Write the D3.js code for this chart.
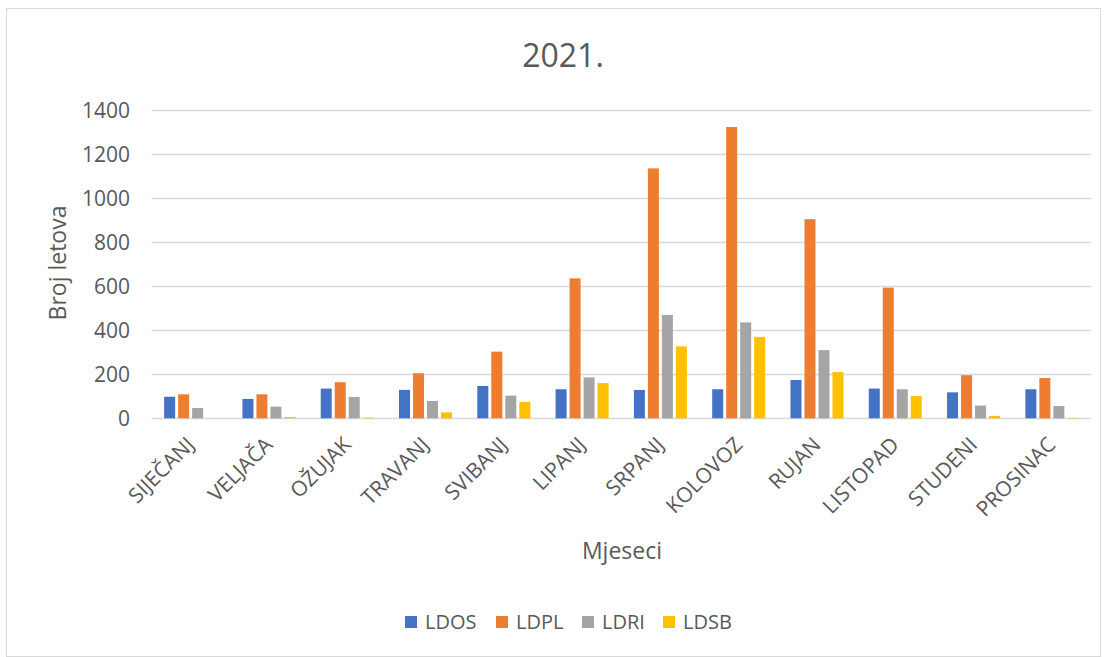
<!DOCTYPE html>
<html><head><meta charset="utf-8">
<script src="https://cdn.jsdelivr.net/npm/d3@7/dist/d3.min.js"></script>
<style>body{margin:0;background:#fff;} svg{display:block;} text{font-family:"Open Sans",sans-serif;fill:#595959;}</style>
</head><body>
<svg id="c" width="1118" height="657"></svg>
<script>
const months = ["SIJEČANJ","VELJAČA","OŽUJAK","TRAVANJ","SVIBANJ","LIPANJ","SRPANJ","KOLOVOZ","RUJAN","LISTOPAD","STUDENI","PROSINAC"];
const seriesNames = ["LDOS","LDPL","LDRI","LDSB"];
const LDOS = [98, 88, 135, 129, 147, 132, 129, 132, 174, 135, 118, 132];
const LDPL = [109, 109, 164, 205, 303, 636, 1136, 1324, 905, 594, 196, 183];
const LDRI = [47, 53, 97, 79, 103, 186, 470, 436, 310, 132, 58, 56];
const LDSB = [0, 6, 3, 27, 74, 160, 327, 370, 210, 101, 11, 2];
const yTicks = [0, 200, 400, 600, 800, 1000, 1200, 1400];
const colors = ["#4472C4", "#ED7D31", "#A5A5A5", "#FFC000"];
const seriesVals = [LDOS, LDPL, LDRI, LDSB];

const svg = d3.select("#c");
svg.append("rect").attr("x",6.5).attr("y",8.5).attr("width",1094).attr("height",648).attr("fill","#fff").attr("stroke","#D9D9D9");

const pLeft = 151.5, pRight = 1091, pTop = 110.3, pBottom = 418.3;
const x = d3.scaleBand().domain(months).range([pLeft, pRight]).paddingInner(0).paddingOuter(0);
const y = d3.scaleLinear().domain([0, 1400]).range([pBottom, pTop]);
const groupW = 53;
const xs = d3.scaleBand().domain(seriesNames).range([0, groupW]).paddingInner(3/14).paddingOuter(0);

// gridlines
svg.append("g").selectAll("line").data(yTicks).join("line")
  .attr("x1", pLeft).attr("x2", pRight)
  .attr("y1", d => Math.round(y(d)) + 0.5).attr("y2", d => Math.round(y(d)) + 0.5)
  .attr("stroke", "#D9D9D9").attr("stroke-width", 1.5);

// y labels
svg.append("g").selectAll("text").data(yTicks).join("text")
  .attr("x", 130).attr("y", d => y(d)).attr("dy", "0.36em")
  .attr("text-anchor", "end").style("font-size", "21px").text(d => d);

// bars
const g = svg.append("g");
seriesNames.forEach((s, si) => {
  g.append("g").selectAll("rect").data(months).join("rect")
    .attr("x", m => x(m) + (x.bandwidth() - groupW) / 2 + xs(s))
    .attr("width", xs.bandwidth())
    .attr("y", (m, i) => y(seriesVals[si][i]))
    .attr("height", (m, i) => pBottom - y(seriesVals[si][i]))
    .attr("fill", colors[si]);
});

// x labels
svg.append("g").selectAll("text").data(months).join("text")
  .attr("transform", m => `translate(${x(m) + x.bandwidth()/2 + 5},${446}) rotate(-45)`)
  .attr("text-anchor", "end").style("font-size", "21px").text(m => m);

// titles
svg.append("text").attr("x", 563).attr("y", 67).attr("text-anchor", "middle").style("font-size", "32px").text("2021.");
svg.append("text").attr("transform", "translate(66,263) rotate(-90)").attr("text-anchor", "middle").style("font-size", "23px").text("Broj letova");
svg.append("text").attr("x", 622).attr("y", 559).attr("text-anchor", "middle").style("font-size", "23px").text("Mjeseci");

// legend
const legX = [405, 496, 582, 663];
const leg = svg.append("g");
seriesNames.forEach((s, i) => {
  leg.append("rect").attr("x", legX[i]).attr("y", 616).attr("width", 12).attr("height", 12).attr("fill", colors[i]);
  leg.append("text").attr("x", legX[i] + 20).attr("y", 629).style("font-size", "20px").text(s);
});
</script>
</body></html>
